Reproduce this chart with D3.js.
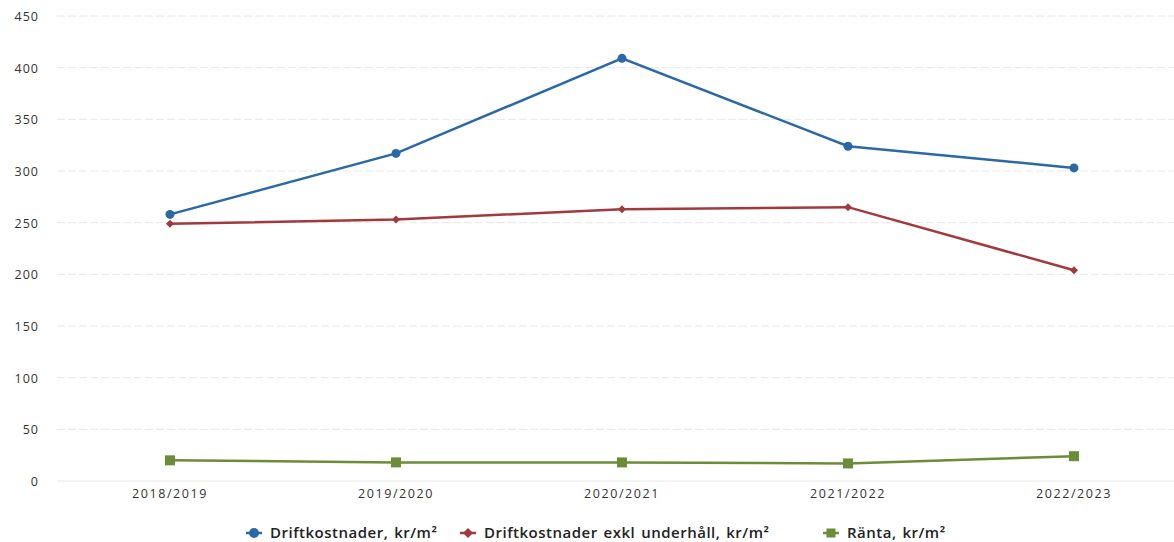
<!DOCTYPE html>
<html><head><meta charset="utf-8">
<script src="https://cdn.jsdelivr.net/npm/d3@7"></script>
<style>
body{margin:0;background:#fff;}
svg{display:block;}
</style></head>
<body><svg id="c" width="1174" height="542"></svg>
<script>
const categories = ["2018/2019","2019/2020","2020/2021","2021/2022","2022/2023"];
const driftkostnader = [258, 317, 409, 324, 303];
const driftExklUnderhall = [249, 253, 263, 265, 204];
const ranta = [20, 18, 18, 17, 24];
const yTicks = [0,50,100,150,200,250,300,350,400,450];
const seriesNames = ["Driftkostnader, kr/m²","Driftkostnader exkl underhåll, kr/m²","Ränta, kr/m²"];
const seriesColors = ["#2b69a6","#a2393c","#6c8d38"];
const seriesShapes = ["circle","diamond","square"];

const svg = d3.select("#c");
const x = d3.scaleBand().domain(categories).range([57, 1187]);
const y = d3.scaleLinear().domain([0,450]).range([481,16]);
const font = "'Open Sans', 'DejaVu Sans', sans-serif";

// grid
svg.append("g").selectAll("line").data(yTicks).join("line")
  .attr("x1",57).attr("x2",1174)
  .attr("y1",d=>y(d)).attr("y2",d=>y(d))
  .attr("stroke","#e8e8e8").attr("stroke-width",1)
  .attr("stroke-dasharray",d=>d===0?null:"8,3");

// y axis
const ya = svg.append("g").attr("transform","translate(39,0)")
  .call(d3.axisLeft(y).tickValues(yTicks).tickSize(0).tickPadding(0));
ya.select(".domain").remove();
ya.selectAll("text").attr("font-family",font).attr("font-size",12.5).attr("fill","#333")
  .attr("letter-spacing","1px").attr("dy","0.35em");

// x axis
const xa = svg.append("g").attr("transform","translate(0,481)")
  .call(d3.axisBottom(x).tickSize(0).tickPadding(8));
xa.select(".domain").remove();
xa.selectAll("text").attr("font-family",font).attr("font-size",12.5).attr("fill","#333").attr("letter-spacing","1.6px");

const cx = d => x(d) + x.bandwidth()/2;
const data = [driftkostnader, driftExklUnderhall, ranta];
const line = d3.line().x((d,i)=>cx(categories[i])).y(d=>y(d));

function marker(g, shape, color, px, py, s){
  if(shape==="circle") g.append("circle").attr("cx",px).attr("cy",py).attr("r",s).attr("fill",color);
  else if(shape==="diamond") g.append("path").attr("d",`M${px},${py-s}L${px+s},${py}L${px},${py+s}L${px-s},${py}Z`).attr("fill",color);
  else g.append("rect").attr("x",px-s).attr("y",py-s).attr("width",2*s).attr("height",2*s).attr("fill",color);
}

data.forEach((vals,k)=>{
  const g = svg.append("g");
  g.append("path").datum(vals).attr("d",line).attr("fill","none")
    .attr("stroke",seriesColors[k]).attr("stroke-width",2.5);
  vals.forEach((v,i)=>marker(g, seriesShapes[k], seriesColors[k], cx(categories[i]), y(v), seriesShapes[k]==="circle"?4.5:(seriesShapes[k]==="diamond"?4:5)));
});

// legend
const legX = [246, 460, 823];
seriesNames.forEach((n,k)=>{
  const g = svg.append("g").attr("transform",`translate(${legX[k]},533)`);
  g.append("line").attr("x1",0).attr("x2",16).attr("y1",0).attr("y2",0).attr("stroke",seriesColors[k]).attr("stroke-width",2.5);
  marker(g, seriesShapes[k], seriesColors[k], 8, 0, seriesShapes[k]==="square"?4.5:5);
  g.append("text").attr("x",24).attr("y",0).attr("dy","0.35em")
    .attr("font-family",font).attr("font-size",15).attr("font-weight",600)
    .attr("letter-spacing","0.5px").attr("word-spacing","1.5px").attr("fill","#222").text(n);
});
</script></body></html>
